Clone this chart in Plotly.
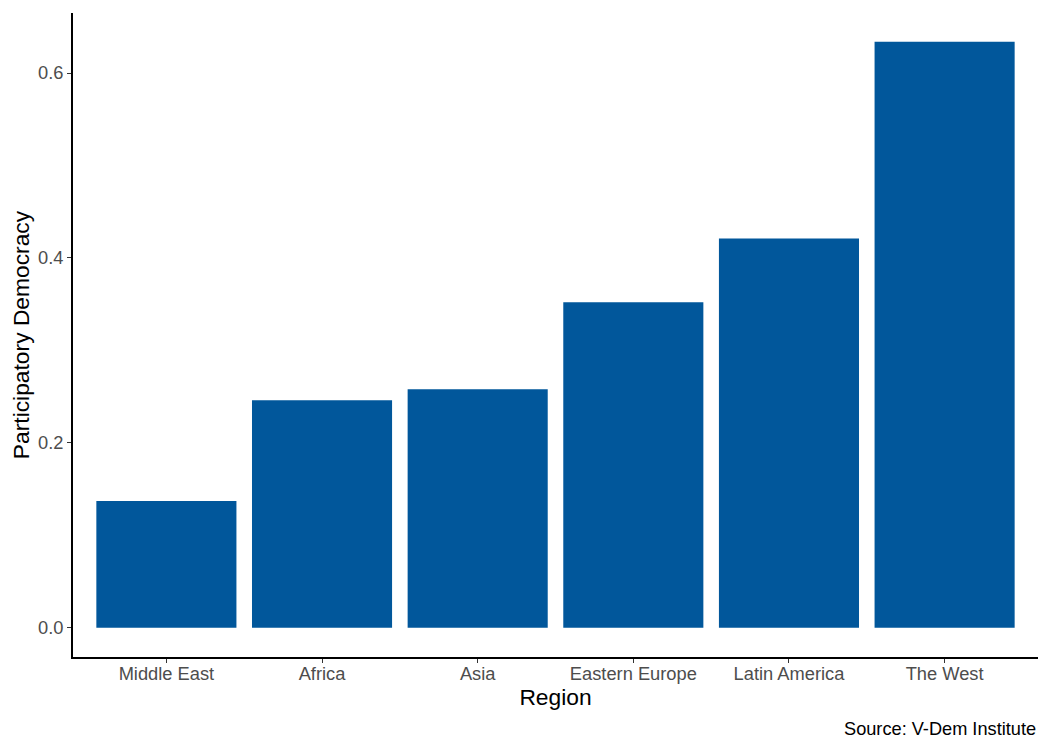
import plotly.graph_objects as go

regions = ["Middle East", "Africa", "Asia", "Eastern Europe", "Latin America", "The West"]
participatory = [0.137, 0.246, 0.258, 0.352, 0.421, 0.634]
y_ticks = [0.0, 0.2, 0.4, 0.6]

fig = go.Figure(go.Bar(
    x=regions, y=participatory, width=0.9,
    marker=dict(color="#01579B", line=dict(width=0)),
))

font = "Liberation Sans, Arial, sans-serif"
fig.update_layout(
    width=1050, height=750,
    margin=dict(l=65, r=20, t=5, b=101),
    plot_bgcolor="white", paper_bgcolor="white",
    font=dict(family=font, color="black"),
    showlegend=False,
    xaxis=dict(
        range=[-0.6, 5.6], showline=True, linecolor="black", linewidth=1.6,
        ticks="outside", ticklen=4, tickcolor="#333333", tickwidth=1.2,
        tickfont=dict(size=18.3, color="#4D4D4D"), showgrid=False, zeroline=False,
        ticklabelstandoff=-5,
        title=dict(text="Region", font=dict(size=22.8, color="black"), standoff=5),
    ),
    yaxis=dict(
        range=[-0.0317, 0.665], showline=True, linecolor="black", linewidth=1.6,
        ticks="outside", ticklen=4, tickcolor="#333333", tickwidth=1.2,
        tickvals=y_ticks, tickformat=".1f",
        tickfont=dict(size=18.3, color="#4D4D4D"), showgrid=False, zeroline=False,
        title=dict(text="Participatory Democracy", font=dict(size=22.8, color="black"), standoff=8),
    ),
    annotations=[dict(
        text="Source: V-Dem Institute", xref="paper", yref="paper",
        x=1, y=0, xanchor="right", yanchor="middle", yshift=-72,
        showarrow=False, font=dict(size=18.2, color="black"),
    )],
)

fig.write_html("out.html")
